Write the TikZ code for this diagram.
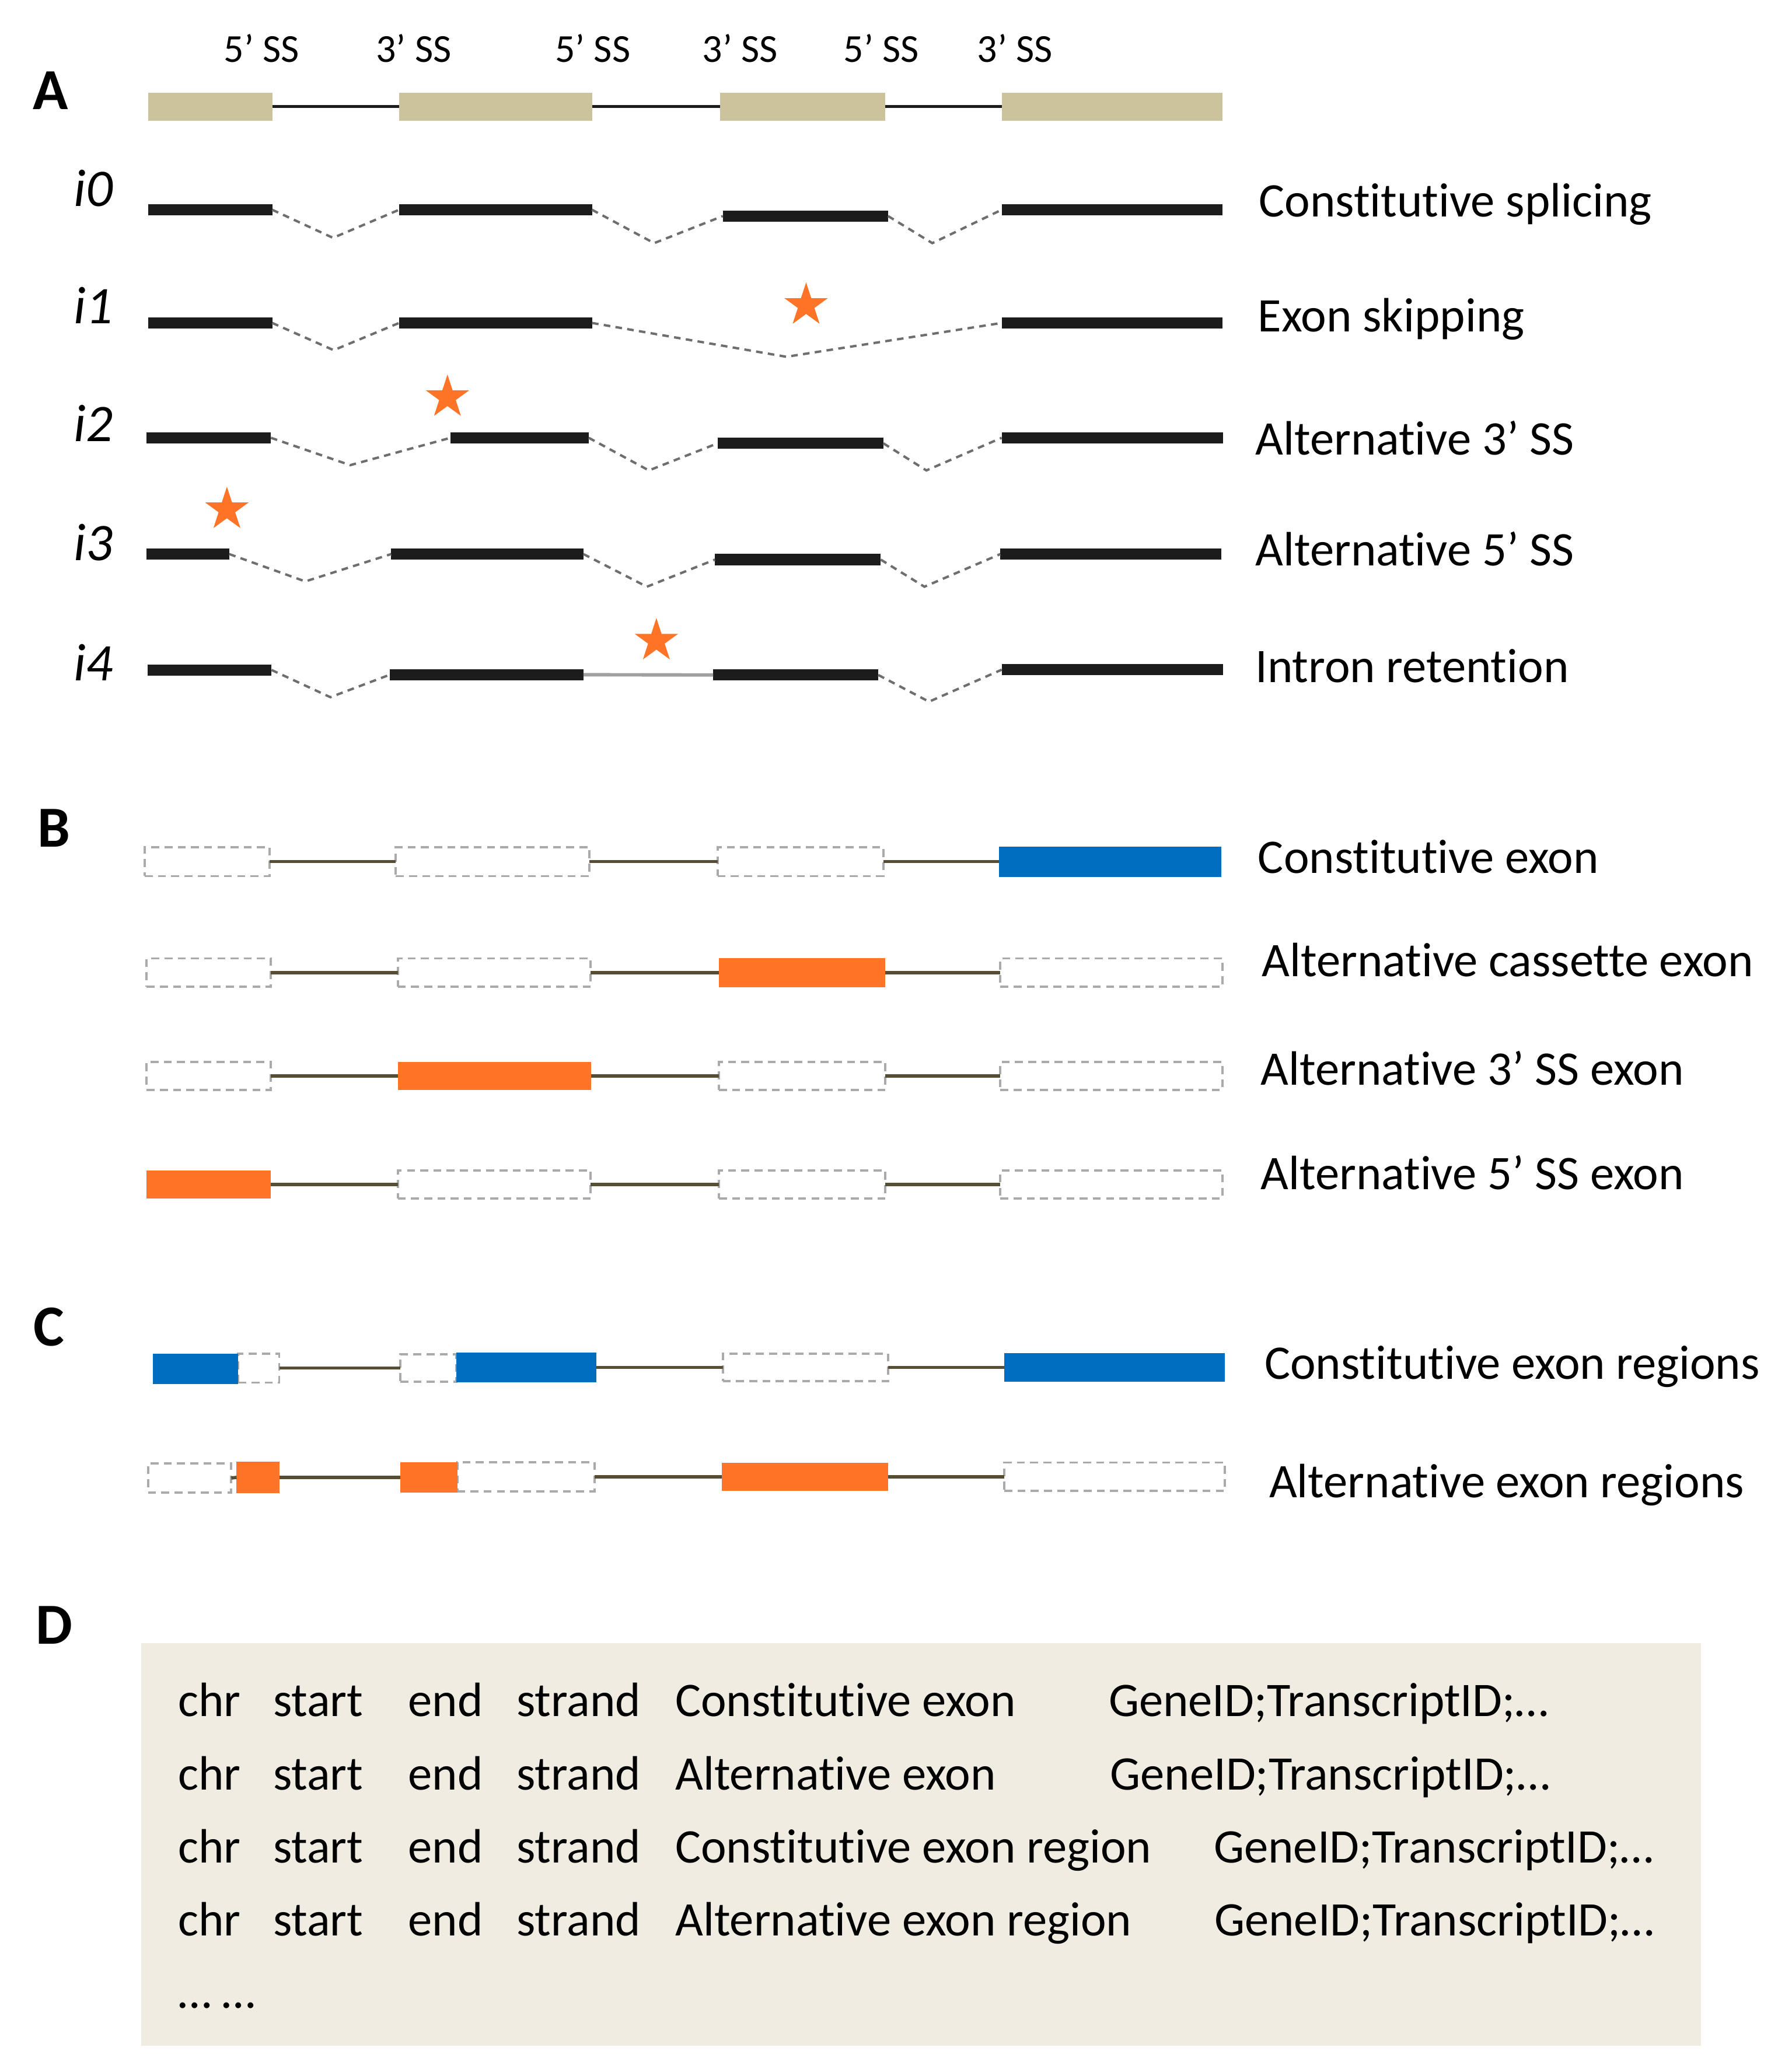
\documentclass[tikz,border=0pt]{standalone}
\usepackage{fontspec}
\setmainfont{Carlito}[Ligatures={NoCommon}]
\usetikzlibrary{shapes.geometric}
\definecolor{exontan}{RGB}{204,194,155}
\definecolor{barblk}{RGB}{28,28,28}
\definecolor{splgray}{RGB}{110,110,110}
\definecolor{starorange}{RGB}{255,116,38}
\definecolor{exorange}{RGB}{255,116,38}
\definecolor{exblue}{RGB}{0,110,192}
\definecolor{intronol}{RGB}{85,78,50}
\definecolor{boxgray}{RGB}{170,170,170}
\definecolor{tablebg}{RGB}{240,236,226}
\definecolor{retgray}{RGB}{160,160,160}
\newcommand{\exbox}[6]{\node[#2, minimum width={#4-#3}, minimum height={#6}] (#1) at ({(#3+#4)/2},#5) {};}
\begin{document}
\begin{tikzpicture}[x=1pt,y=-1pt,
  every node/.style={inner sep=0pt, outer sep=0pt},
  bx/.style={rectangle, inner sep=0pt, outer sep=0pt},
  tanex/.style={bx, fill=exontan},
  blkex/.style={bx, fill=barblk},
  blueex/.style={bx, fill=exblue},
  orex/.style={bx, fill=exorange},
  dashex/.style={bx, draw=boxgray, line width=1.7pt, dash pattern=on 6pt off 4pt},
  splice/.style={draw=splgray, line width=1.8pt, dash pattern=on 5pt off 4pt},
  intronA/.style={draw=barblk, line width=2.1pt},
  intronB/.style={draw=intronol, line width=2.5pt},
  retain/.style={draw=retgray, line width=2.6pt},
  mark5/.style={star, star points=5, star point ratio=2.618, fill=starorange, draw=none, minimum size=34.6pt, inner sep=0pt},
  ss/.style={font=\fontsize{30}{34}\selectfont, anchor=base},
  iso/.style={font=\fontsize{40}{44}\selectfont\itshape, anchor=base west},
  panel/.style={font=\fontsize{44}{48}\selectfont\bfseries, anchor=base west},
  lab/.style={font=\fontsize{36.5}{40}\selectfont, anchor=base west},
]
\useasboundingbox (0,0) rectangle (1356,1568);
\fill[white] (0,0) rectangle (1356,1568);

% ---------------- Panel A ----------------
\node[panel] (pA) at (25,83) {A};
\node[ss] (s1) at (198,47) {5’ SS};
\node[ss] (s2) at (313,47) {3’ SS};
\node[ss] (s3) at (448.5,47) {5’ SS};
\node[ss] (s4) at (560,47) {3’ SS};
\node[ss] (s5) at (667,47) {5’ SS};
\node[ss] (s6) at (768,47) {3’ SS};

\exbox{g1}{tanex}{112}{206}{80.7}{21}
\exbox{g2}{tanex}{302}{448}{80.7}{21}
\exbox{g3}{tanex}{545}{670}{80.7}{21}
\exbox{g4}{tanex}{758}{925}{80.7}{21}
\draw[intronA] (g1.east) -- (g2.west);
\draw[intronA] (g2.east) -- (g3.west);
\draw[intronA] (g3.east) -- (g4.west);

% i0
\node[iso] (li0) at (56,156) {i0};
\exbox{a0e1}{blkex}{112}{206}{158.75}{8.5}
\exbox{a0e2}{blkex}{302}{448}{158.75}{8.5}
\exbox{a0e3}{blkex}{547}{672}{163.5}{8.5}
\exbox{a0e4}{blkex}{758}{925}{158.75}{8.5}
\coordinate (a0d1) at (252,180);
\coordinate (a0d2) at (495,184);
\coordinate (a0d3) at (705.5,184);
\draw[splice] (a0e1.east) -- (a0d1) -- (a0e2.west);
\draw[splice] (a0e2.east) -- (a0d2) -- (a0e3.west);
\draw[splice] (a0e3.east) -- (a0d3) -- (a0e4.west);
\node[lab] (t0) at (952.7,164) {Constitutive splicing};

% i1
\node[iso] (li1) at (56,245) {i1};
\exbox{a1e1}{blkex}{112}{206}{244.4}{8.5}
\exbox{a1e2}{blkex}{302}{448}{244.4}{8.5}
\exbox{a1e4}{blkex}{758}{925}{244.4}{8.5}
\coordinate (a1d1) at (252.5,265);
\coordinate (a1d2) at (595,270);
\draw[splice] (a1e1.east) -- (a1d1) -- (a1e2.west);
\draw[splice] (a1e2.east) -- (a1d2) -- (a1e4.west);
\node[mark5] (st1) at (610,231) {};
\node[lab] (t1) at (952,251) {Exon skipping};

% i2
\node[iso] (li2) at (56,334) {i2};
\exbox{a2e1}{blkex}{111}{205}{331.3}{8.5}
\exbox{a2e2}{blkex}{341}{445.5}{331.3}{8.5}
\exbox{a2e3}{blkex}{543}{668.5}{335.5}{8.5}
\exbox{a2e4}{blkex}{758}{925.5}{331.3}{8.5}
\coordinate (a2d1) at (265,352);
\coordinate (a2d2) at (491,356);
\coordinate (a2d3) at (701,356);
\draw[splice] (a2e1.east) -- (a2d1) -- (a2e2.west);
\draw[splice] (a2e2.east) -- (a2d2) -- (a2e3.west);
\draw[splice] (a2e3.east) -- (a2d3) -- (a2e4.west);
\node[mark5] (st2) at (338.6,300.7) {};
\node[lab] (t2) at (950,344) {Alternative 3’ SS};

% i3
\node[iso] (li3) at (56,424) {i3};
\exbox{a3e1}{blkex}{111}{173.5}{419.3}{8.5}
\exbox{a3e2}{blkex}{296}{441.5}{419.3}{8.5}
\exbox{a3e3}{blkex}{541}{666.5}{423.5}{8.5}
\exbox{a3e4}{blkex}{757}{924}{419.3}{8.5}
\coordinate (a3d1) at (231,440);
\coordinate (a3d2) at (489.5,444);
\coordinate (a3d3) at (699.5,444);
\draw[splice] (a3e1.east) -- (a3d1) -- (a3e2.west);
\draw[splice] (a3e2.east) -- (a3d2) -- (a3e3.west);
\draw[splice] (a3e3.east) -- (a3d3) -- (a3e4.west);
\node[mark5] (st3) at (171.7,385.6) {};
\node[lab] (t3) at (950,428) {Alternative 5’ SS};

% i4
\node[iso] (li4) at (56,515) {i4};
\exbox{a4e1}{blkex}{111.5}{205.5}{507}{8.5}
\exbox{a4e2}{blkex}{295}{441.5}{510.6}{8.5}
\exbox{a4e3}{blkex}{539.6}{664.6}{510.8}{8.5}
\exbox{a4e4}{blkex}{758}{925.5}{506.8}{8.5}
\coordinate (a4d1) at (250,527.6);
\coordinate (a4d3) at (703,531);
\draw[splice] (a4e1.east) -- (a4d1) -- (a4e2.west);
\draw[retain] (a4e2.east) -- (a4e3.west);
\draw[splice] (a4e3.east) -- (a4d3) -- (a4e4.west);
\node[mark5] (st4) at (496.7,485) {};
\node[lab] (t4) at (950,516.5) {Intron retention};

% ---------------- Panel B ----------------
\node[panel] (pB) at (28.5,641) {B};
% row 1
\exbox{b1a}{dashex}{109.5}{204}{652}{22}
\exbox{b1b}{dashex}{299.5}{446}{652}{22}
\exbox{b1c}{dashex}{543}{668.5}{652}{22}
\exbox{b1d}{blueex}{756}{924}{652}{23}
\draw[intronB] (b1a.east) -- (b1b.west);
\draw[intronB] (b1b.east) -- (b1c.west);
\draw[intronB] (b1c.east) -- (b1d.west);
\node[lab] (tb1) at (952,661) {Constitutive exon};
% row 2
\exbox{b2a}{dashex}{111}{205}{736}{21.5}
\exbox{b2b}{dashex}{301}{447}{736}{21.5}
\exbox{b2c}{orex}{544}{670}{736}{22}
\exbox{b2d}{dashex}{757}{925}{736}{21.5}
\draw[intronB] (b2a.east) -- (b2b.west);
\draw[intronB] (b2b.east) -- (b2c.west);
\draw[intronB] (b2c.east) -- (b2d.west);
\node[lab] (tb2) at (955,739) {Alternative cassette exon};
% row 3
\exbox{b3a}{dashex}{111}{205}{814.2}{21}
\exbox{b3b}{orex}{301}{447.5}{814.2}{21.5}
\exbox{b3c}{dashex}{544}{670}{814.2}{21}
\exbox{b3d}{dashex}{757}{925}{814.2}{21}
\draw[intronB] (b3a.east) -- (b3b.west);
\draw[intronB] (b3b.east) -- (b3c.west);
\draw[intronB] (b3c.east) -- (b3d.west);
\node[lab] (tb3) at (954,821) {Alternative 3’ SS exon};
% row 4
\exbox{b4a}{orex}{111}{205}{896.3}{21.5}
\exbox{b4b}{dashex}{301}{447}{896.3}{21}
\exbox{b4c}{dashex}{544}{670}{896.3}{21}
\exbox{b4d}{dashex}{757}{925}{896.3}{21}
\draw[intronB] (b4a.east) -- (b4b.west);
\draw[intronB] (b4b.east) -- (b4c.west);
\draw[intronB] (b4c.east) -- (b4d.west);
\node[lab] (tb4) at (954,900) {Alternative 5’ SS exon};

% ---------------- Panel C ----------------
\node[panel] (pC) at (25.4,1018.6) {C};
% row 1
\exbox{c1b}{dashex}{180.3}{211.3}{1035.3}{22}
\exbox{c1a}{blueex}{115.5}{180.3}{1036}{23}
\exbox{c1c}{dashex}{303}{345.4}{1035.3}{21}
\exbox{c1d}{blueex}{345.4}{451.3}{1034.8}{22.7}
\exbox{c1e}{dashex}{547}{672}{1034.8}{21}
\exbox{c1f}{blueex}{760}{927}{1034.8}{22}
\draw[intronB] (c1b.east) -- (c1c.west);
\draw[intronB] (c1d.east) -- (c1e.west);
\draw[intronB] (c1e.east) -- (c1f.west);
\node[lab] (tc1) at (957,1043.5) {Constitutive exon regions};
% row 2
\exbox{c2a}{dashex}{112}{175}{1118.5}{22}
\exbox{c2b}{orex}{179}{211.3}{1118}{24}
\exbox{c2d}{dashex}{346}{450}{1117.5}{22}
\exbox{c2c}{orex}{303}{346}{1118}{22.6}
\exbox{c2e}{orex}{546}{672}{1117.5}{21}
\exbox{c2f}{dashex}{760}{927}{1117.5}{21.5}
\draw[intronB] (c2a.east) -- (c2b.west);
\draw[intronB] (c2b.east) -- (c2c.west);
\draw[intronB] (c2d.east) -- (c2e.west);
\draw[intronB] (c2e.east) -- (c2f.west);
\node[lab] (tc2) at (960.4,1133.3) {Alternative exon regions};

% ---------------- Panel D ----------------
\node[panel] (pD) at (27,1244) {D};
\node[bx, fill=tablebg, minimum width=1180, minimum height=304.4] (dbox) at (697,1395.8) {};
% row 1
\node[lab] (d1a) at (134.7,1299) {chr};
\node[lab] (d1b) at (206.7,1299) {start};
\node[lab] (d1c) at (309,1299) {end};
\node[lab] (d1d) at (391,1299) {strand};
\node[lab] (d1e) at (511,1299) {Constitutive exon};
\node[lab] (d1f) at (839,1299) {GeneID;TranscriptID;…};
% row 2
\node[lab] (d2a) at (134.7,1354.3) {chr};
\node[lab] (d2b) at (206.7,1354.3) {start};
\node[lab] (d2c) at (309,1354.3) {end};
\node[lab] (d2d) at (391,1354.3) {strand};
\node[lab] (d2e) at (511,1354.3) {Alternative exon};
\node[lab] (d2f) at (840,1354.3) {GeneID;TranscriptID;…};
% row 3
\node[lab] (d3a) at (134.7,1409.5) {chr};
\node[lab] (d3b) at (206.7,1409.5) {start};
\node[lab] (d3c) at (309,1409.5) {end};
\node[lab] (d3d) at (391,1409.5) {strand};
\node[lab] (d3e) at (511,1409.5) {Constitutive exon region};
\node[lab] (d3f) at (918.5,1409.5) {GeneID;TranscriptID;…};
% row 4
\node[lab] (d4a) at (134.7,1464.7) {chr};
\node[lab] (d4b) at (206.7,1464.7) {start};
\node[lab] (d4c) at (309,1464.7) {end};
\node[lab] (d4d) at (391,1464.7) {strand};
\node[lab] (d4e) at (511,1464.7) {Alternative exon region};
\node[lab] (d4f) at (919,1464.7) {GeneID;TranscriptID;…};
% row 5
\node[lab] (d5a) at (134.7,1519.7) {… …};
\end{tikzpicture}
\end{document}
